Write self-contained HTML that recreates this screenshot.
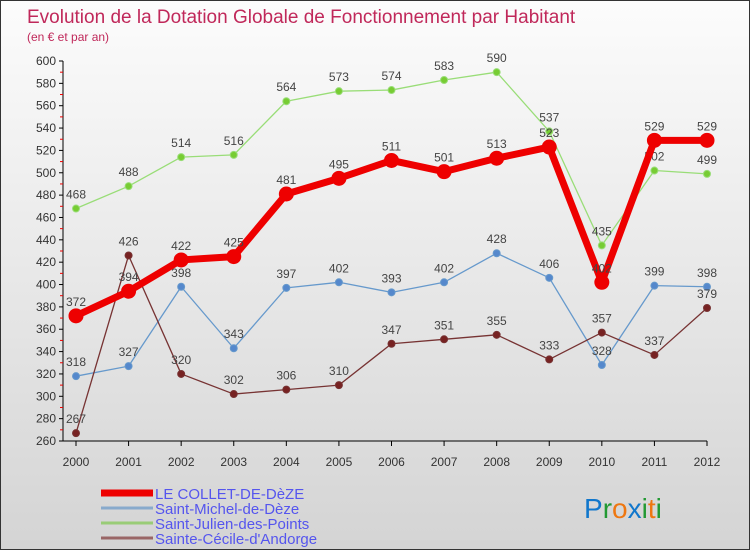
<!DOCTYPE html>
<html><head><meta charset="utf-8"><style>
body{margin:0}
#wrap{position:relative;width:750px;height:550px;box-sizing:border-box;border:1px solid #333;background:linear-gradient(#fcfcfc,#f0f0f0 30%,#d4d4d4);font-family:"Liberation Sans",sans-serif;overflow:hidden}
</style></head><body>
<div id="wrap">
<svg id="c" width="750" height="550" style="position:absolute;left:0;top:0">
<text x="26" y="22" font-size="19" fill="#c0285a">Evolution de la Dotation Globale de Fonctionnement par Habitant</text>
<text x="26" y="40" font-size="12" fill="#c0285a">(en € et par an)</text>
</svg>
</div>
<script>
const years=['2000','2001','2002','2003','2004','2005','2006','2007','2008','2009','2010','2011','2012'];
const yTicks=[260,280,300,320,340,360,380,400,420,440,460,480,500,520,540,560,580,600];
const collet=[372,394,422,425,481,495,511,501,513,523,402,529,529];
const michel=[318,327,398,343,397,402,393,402,428,406,328,399,398];
const julien=[468,488,514,516,564,573,574,583,590,537,435,502,499];
const cecile=[267,426,320,302,306,310,347,351,355,333,357,337,379];
const seriesNames=['LE COLLET-DE-DèZE','Saint-Michel-de-Dèze','Saint-Julien-des-Points','Sainte-Cécile-d\'Andorge'];
const NS='http://www.w3.org/2000/svg';
const svg=document.getElementById('c');
const X=i=>75+i*(706-75)/(years.length-1);
const Y=v=>440-(v-260)*(380/340);
function mk(t,a,p){const e=document.createElementNS(NS,t);for(const k in a)e.setAttribute(k,a[k]);(p||svg).appendChild(e);return e;}
// axes
let ax=mk('line',{x1:62,y1:60,x2:62,y2:440,stroke:'#000'});


let bx=mk('line',{x1:62,y1:440,x2:706,y2:440,stroke:'#000'});


yTicks.forEach((v,i)=>{
  mk('line',{x1:58,y1:Y(v),x2:62,y2:Y(v),stroke:'#000'});
  if(i<yTicks.length-1)mk('line',{x1:59,y1:Y(v+10),x2:62,y2:Y(v+10),stroke:'#e00'});
  const t=mk('text',{x:55,y:Y(v)+4,'font-size':12,fill:'#333','text-anchor':'end'});t.textContent=v;
  
  
});
years.forEach((y,i)=>{
  mk('line',{x1:X(i),y1:440,x2:X(i),y2:445,stroke:'#000'});
  const t=mk('text',{x:X(i),y:465,'font-size':12,fill:'#333','text-anchor':'middle'});t.textContent=y;
  
  
});
function series(data,color,lw,r,dot,lab,name,labColor){
  const g=mk('g',{});
  
  
  mk('polyline',{points:data.map((v,i)=>X(i)+','+Y(v)).join(' '),fill:'none',stroke:color,'stroke-width':lw,'stroke-linejoin':'round'},g);
  data.forEach((v,i)=>{
    const c=mk('circle',{cx:X(i),cy:Y(v),r:r,fill:dot,stroke:color,'stroke-width':1},g);
    
    
    const t=mk('text',{x:X(i),y:Y(v)-10,'font-size':12,fill:'#444','text-anchor':'middle'},g);t.textContent=v;
    
    
  });
}
series(julien,'#99dd77',1.3,3.5,'#77cc33','','series-saint-julien');
series(michel,'#6699cc',1.3,3.5,'#5588cc','','series-saint-michel');
series(cecile,'#773333',1.3,3.5,'#772222','','series-sainte-cecile');
series(collet,'#ee0000',7,7,'#ee0000','','series-le-collet');
// legend
const lc=[['#ee0000',7],['#88aacc',3],['#99cc77',3],['#996666',3]];
seriesNames.forEach((n,i)=>{
  const yy=492+i*15;
  const l=mk('line',{x1:100,y1:yy,x2:152,y2:yy,stroke:lc[i][0],'stroke-width':lc[i][1]});
  
  
  const t=mk('text',{x:154,y:yy+6,'font-size':15,fill:'#5555ee'});t.textContent=n;
  
  
});
const lg=mk('text',{x:583,y:517,'font-size':28,'font-family':'Liberation Sans'});


[['P','#1177cc'],['r','#229933'],['o','#ee7711'],['x','#1177cc'],['i','#229933'],['t','#ee7711'],['i','#229933']].forEach(([c,f])=>{const s=mk('tspan',{fill:f},lg);s.textContent=c;});
</script>
</body></html>
